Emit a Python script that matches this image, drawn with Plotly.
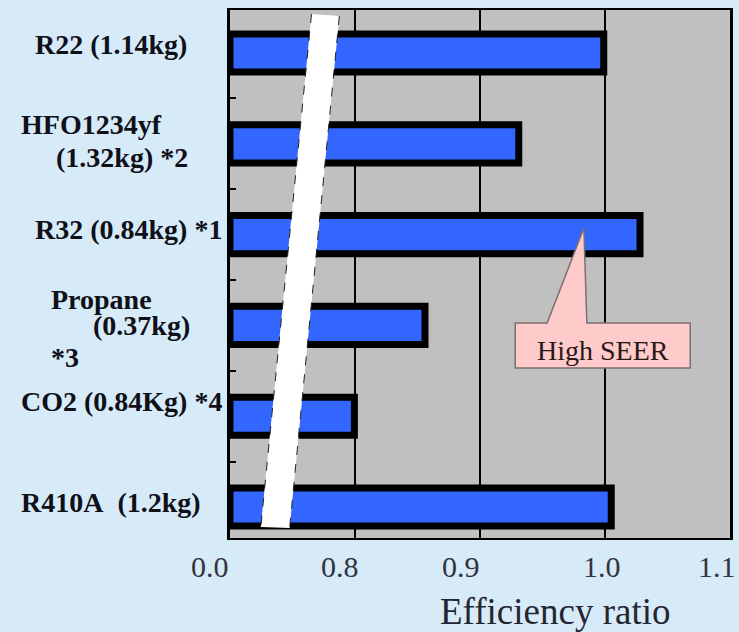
import plotly.graph_objects as go

# ---------------- data ----------------
label_lines = [
    ["R22 (1.14kg)"],
    ["HFO1234yf", "(1.32kg) *2"],
    ["R32 (0.84kg) *1"],
    ["Propane", "(0.37kg)", "*3"],
    ["CO2 (0.84Kg) *4"],
    ["R410A\u00a0\u00a0(1.2kg)"],
]
efficiency = [0.999, 0.931, 1.028, 0.856, 0.796, 1.005]
tick_values = [0.0, 0.8, 0.9, 1.0, 1.1]
tick_labels = ["0.0", "0.8", "0.9", "1.0", "1.1"]
axis_title = "Efficiency ratio"
callout_text = "High SEER"
callout_index = 2

# ---------------- layout helpers ----------------
W, H = 739, 632
ML, MR, MT, MB = 230, 6, 10, 94
PW, PH = W - ML - MR, H - MT - MB
SERIF = "Liberation Serif"


def disp(v):
    """broken axis: 0..0.8 compressed into 0.7..0.8"""
    return v if v >= 0.8 else 0.7 + v * 0.125


def px_x(px):
    return (px - ML) / PW


def px_y(py):
    return (MT + PH - py) / PH


def data_x(px):
    return 0.7 + (px - ML) / PW * 0.4


Y0, Y1 = -0.474, 5.341


def data_y(py):
    return Y0 + (py - MT) / PH * (Y1 - Y0)


n = len(efficiency)
cats = list(range(n))

fig = go.Figure()
fig.add_trace(go.Bar(
    orientation="h",
    y=cats,
    base=[disp(0.0)] * n,
    x=[disp(v) - disp(0.0) for v in efficiency],
    width=0.42,
    marker=dict(color="#3366FF", line=dict(color="black", width=7)),
    customdata=efficiency,
    hovertemplate="%{customdata:.3f}<extra></extra>",
    showlegend=False,
))

annotations = []
# y labels (left x px, cap-middle y px for each line)
label_pos = [
    [(32, 43)],
    [(18, 123), (53, 156)],
    [(32, 228)],
    [(48, 298), (90, 324), (48, 356)],
    [(18, 400)],
    [(18, 501)],
]
for lines, poss in zip(label_lines, label_pos):
    for txt, (lx, ly) in zip(lines, poss):
        annotations.append(dict(
            text="<b>" + txt + "</b>", xref="paper", yref="paper",
            x=px_x(lx), y=px_y(ly + 1), xanchor="left", yanchor="middle",
            showarrow=False, font=dict(family=SERIF, size=28, color="#101018"),
        ))

# x tick labels
tick_shift = [-20, -15, -19, -3, -13]
for v, t, sh in zip(tick_values, tick_labels, tick_shift):
    annotations.append(dict(
        text=t, xref="x", yref="paper", x=disp(v), y=px_y(566),
        xshift=sh, xanchor="center", yanchor="middle", showarrow=False,
        font=dict(family=SERIF, size=30, color="#333340"),
    ))
# axis title
annotations.append(dict(
    text=axis_title, xref="paper", yref="paper", x=px_x(557), y=px_y(611),
    xanchor="center", yanchor="middle", showarrow=False,
    font=dict(family=SERIF, size=37, color="#252530"),
))
# callout text
annotations.append(dict(
    text=callout_text, xref="paper", yref="paper", x=px_x(605), y=px_y(351),
    xanchor="center", yanchor="middle", showarrow=False,
    font=dict(family=SERIF, size=28, color="#2a1818"),
))

shapes = []
# axis break band
band = [(312, 14), (340, 16), (290, 528), (261, 527)]
path = "M " + " L ".join(f"{px_x(x):.4f},{px_y(y):.4f}" for x, y in band) + " Z"
shapes.append(dict(type="path", path=path, xref="x domain", yref="y domain",
                   fillcolor="white", line=dict(width=0), layer="above"))
for (xa, ya), (xb, yb) in [(band[0], band[3]), (band[1], band[2])]:
    shapes.append(dict(type="line", xref="x domain", yref="y domain",
                       x0=px_x(xa), y0=px_y(ya), x1=px_x(xb), y1=px_y(yb),
                       line=dict(color="#222", width=1, dash="dash"), layer="above"))

# callout box with pointer to R32 bar
tip_x, tip_y = 586, 228
call = [(517, 323), (549, 323), (tip_x, tip_y), (589, 323), (693, 323), (693, 368), (517, 368)]
cpath = "M " + " L ".join(f"{data_x(x):.4f},{data_y(y):.4f}" for x, y in call) + " Z"
shapes.append(dict(type="path", path=cpath, xref="x", yref="y",
                   fillcolor="#FFCACA", line=dict(color="#7a7070", width=1.5), layer="above"))

fig.update_layout(
    width=W, height=H,
    margin=dict(l=ML, r=MR, t=MT, b=MB, pad=0),
    paper_bgcolor="#D6EAF8",
    plot_bgcolor="#C0C0C0",
    font=dict(family=SERIF),
    xaxis=dict(range=[0.7, 1.1], tickvals=[disp(v) for v in tick_values[1:4]],
               showticklabels=False, ticks="", showgrid=True, gridcolor="black",
               gridwidth=1.5, zeroline=False, showline=True, linecolor="black",
               linewidth=1.5, mirror=True, fixedrange=True),
    yaxis=dict(range=[Y1, Y0], tickvals=[i + 0.5 for i in range(n - 1)],
               ticks="inside", ticklen=6, tickwidth=1.5, tickcolor="black",
               showticklabels=False, showgrid=False, zeroline=False,
               showline=True, linecolor="black", linewidth=2.5, mirror=True,
               fixedrange=True),
    annotations=annotations,
    shapes=shapes,
)

fig.write_html("out.html")
